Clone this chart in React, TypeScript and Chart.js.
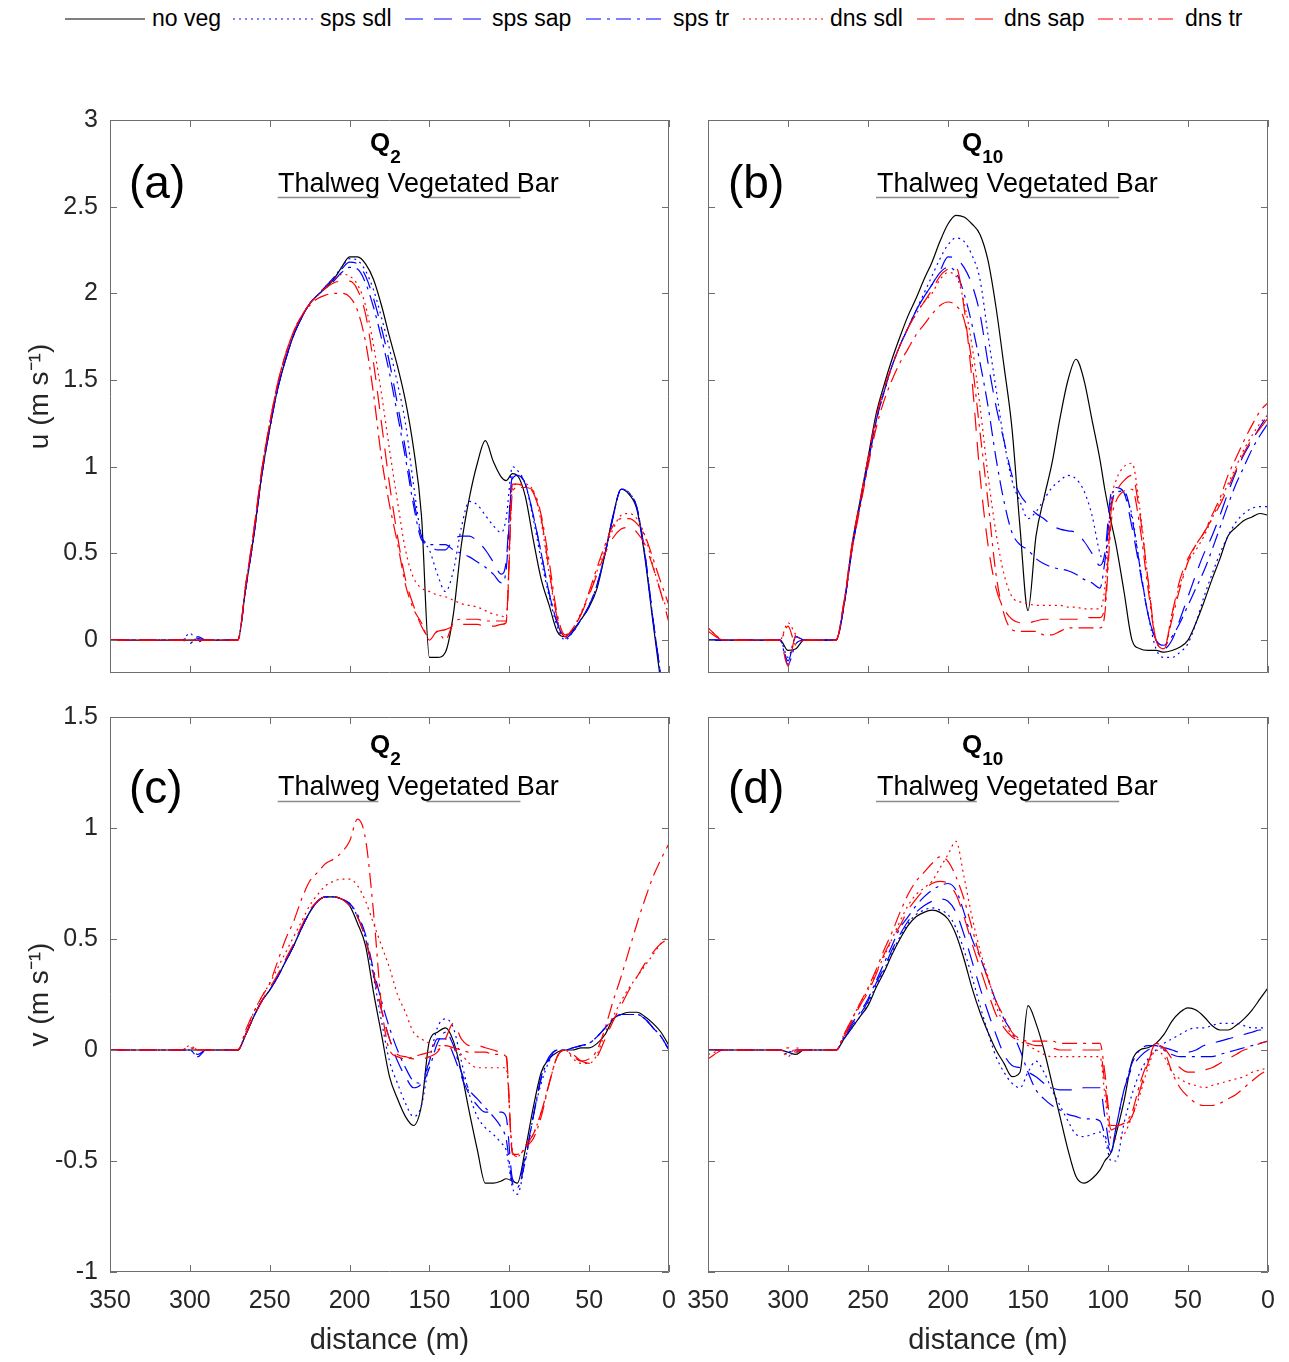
import React, { useEffect, useRef } from 'react';
import { Chart, registerables } from 'chart.js';

Chart.register(...registerables);

const FONT = '"Liberation Sans", Arial, Helvetica, sans-serif';

// shared distance grid (m)
const distance = [
  350, 340, 305, 300, 295, 290, 270, 265, 260, 255,
  250, 245, 240, 235, 230, 225, 220, 215, 210, 205,
  200, 195, 190, 185, 180, 175, 170, 165, 160, 155,
  150, 145, 140, 135, 130, 125, 120, 115, 110, 105,
  102, 98, 95, 90, 85, 80, 75, 70, 65, 60,
  55, 50, 45, 40, 35, 30, 25, 20, 15, 10,
  5, 0,
];

const seriesNames = ['no veg', 'sps sdl', 'sps sap', 'sps tr', 'dns sdl', 'dns sap', 'dns tr'];
const uTicks = [0, 0.5, 1, 1.5, 2, 2.5, 3];
const vTicks = [-1, -0.5, 0, 0.5, 1, 1.5];
const distTicks = [350, 300, 250, 200, 150, 100, 50, 0];
const thalwegRange = [245, 182];
const barRange = [152, 93];

// ---------- (a) u, Q2 ----------
const aNoVeg = [
  0, 0, 0, 0, 0, 0, 0, 0.3, 0.6, 0.95,
  1.22, 1.45, 1.62, 1.76, 1.86, 1.94, 1.99, 2.03, 2.08, 2.15,
  2.21, 2.21, 2.17, 2.08, 1.93, 1.75, 1.58, 1.38, 1.11, 0.72,
  -0.1, -0.1, -0.07, 0.15, 0.55, 0.82, 1.02, 1.15, 1.03, 0.94,
  0.92, 0.96, 0.95, 0.83, 0.58, 0.35, 0.2, 0.05, 0.02, 0.06,
  0.12, 0.19, 0.3, 0.5, 0.72, 0.87, 0.84, 0.75, 0.47, 0.1,
  -0.25, -0.6,
];
const aSpsSdl = [
  0, 0, 0, 0.04, -0.01, 0, 0, 0.3, 0.6, 0.95,
  1.22, 1.45, 1.62, 1.76, 1.86, 1.94, 1.99, 2.04, 2.09, 2.15,
  2.2, 2.19, 2.13, 2.02, 1.86, 1.68, 1.48, 1.25, 0.9, 0.6,
  0.52, 0.38, 0.28, 0.4, 0.65, 0.8, 0.78, 0.72, 0.66, 0.62,
  0.7, 1.0, 0.98, 0.9, 0.7, 0.46, 0.25, 0.08, 0.0, 0.05,
  0.12, 0.2, 0.32, 0.5, 0.71, 0.87, 0.85, 0.76, 0.49, 0.12,
  -0.22, -0.6,
];
const aSpsSap = [
  0, 0, 0, 0.02, 0.01, 0, 0, 0.3, 0.6, 0.95,
  1.22, 1.45, 1.62, 1.76, 1.86, 1.94, 1.99, 2.04, 2.09, 2.14,
  2.18, 2.17, 2.1, 1.97, 1.8, 1.6, 1.36, 1.1, 0.82, 0.6,
  0.55, 0.52, 0.52, 0.58, 0.6, 0.6, 0.57, 0.52, 0.45, 0.38,
  0.45, 0.95, 0.96, 0.9, 0.72, 0.5, 0.27, 0.1, 0.01, 0.05,
  0.12, 0.2, 0.32, 0.5, 0.71, 0.87, 0.85, 0.76, 0.49, 0.12,
  -0.22, -0.6,
];
const aSpsTr = [
  0, 0, 0, -0.02, 0.02, 0, 0, 0.3, 0.6, 0.95,
  1.22, 1.45, 1.62, 1.76, 1.86, 1.94, 1.99, 2.03, 2.07, 2.12,
  2.15, 2.14, 2.06, 1.92, 1.74, 1.54, 1.3, 1.05, 0.78, 0.58,
  0.55, 0.55, 0.55, 0.52, 0.5, 0.48, 0.45, 0.42, 0.38, 0.33,
  0.4, 0.93, 0.95, 0.9, 0.72, 0.5, 0.27, 0.1, 0.01, 0.05,
  0.12, 0.2, 0.32, 0.5, 0.71, 0.87, 0.85, 0.76, 0.49, 0.12,
  -0.22, -0.6,
];
const aDnsSdl = [
  0, 0, 0, 0, 0, 0, 0, 0.32, 0.63, 0.98,
  1.25, 1.48, 1.65, 1.78, 1.87, 1.94, 1.99, 2.04, 2.08, 2.11,
  2.1, 2.05, 1.93, 1.7, 1.42, 1.1, 0.8, 0.52, 0.36, 0.3,
  0.28, 0.26, 0.25, 0.23, 0.21, 0.2, 0.19, 0.17, 0.15, 0.14,
  0.13, 0.88, 0.9, 0.9, 0.86, 0.68, 0.38, 0.12, 0.02, 0.07,
  0.16, 0.27, 0.4, 0.53, 0.64, 0.72, 0.73, 0.7, 0.6, 0.43,
  0.27, 0.15,
];
const aDnsSap = [
  0, 0, 0, 0, 0, 0, 0, 0.32, 0.63, 0.98,
  1.25, 1.48, 1.65, 1.78, 1.87, 1.94, 1.99, 2.03, 2.06, 2.07,
  2.07, 2.02, 1.88, 1.6, 1.25, 0.9, 0.6, 0.35, 0.2, 0.08,
  0.02, 0.05, 0.06, 0.08, 0.09, 0.09, 0.09, 0.08, 0.08, 0.09,
  0.1, 0.9, 0.9, 0.88, 0.85, 0.7, 0.4, 0.13, 0.02, 0.07,
  0.15, 0.26, 0.38, 0.5, 0.59, 0.64, 0.65, 0.62, 0.55, 0.42,
  0.27, 0.1,
];
const aDnsTr = [
  0, 0, 0, 0, 0, 0, 0, 0.32, 0.63, 0.98,
  1.25, 1.48, 1.65, 1.78, 1.87, 1.93, 1.97, 1.99, 2.0, 2.0,
  1.98, 1.9, 1.72, 1.42, 1.05, 0.78, 0.56, 0.32, 0.18, 0.1,
  0.0, 0.05, 0.0, 0.1, 0.12, 0.12, 0.12, 0.11, 0.11, 0.11,
  0.11, 0.85, 0.88, 0.88, 0.86, 0.72, 0.45, 0.15, 0.03, 0.07,
  0.15, 0.28, 0.42, 0.55, 0.66, 0.7, 0.7, 0.67, 0.6, 0.47,
  0.33, 0.2,
];

// ---------- (b) u, Q10 ----------
const bNoVeg = [
  0, 0, 0, -0.06, -0.05, 0, 0, 0.2, 0.55, 0.8,
  1.05, 1.3, 1.47, 1.62, 1.75, 1.87, 1.97, 2.08, 2.18, 2.3,
  2.4, 2.45, 2.44, 2.4, 2.34, 2.19, 1.92, 1.58, 1.22, 0.65,
  0.17, 0.6, 0.82, 1.02, 1.28, 1.5, 1.62, 1.5, 1.27, 1.04,
  0.87, 0.68, 0.55, 0.28, 0.0, -0.05, -0.06, -0.06, -0.07, -0.06,
  -0.04, 0.0, 0.1, 0.22, 0.35, 0.47, 0.6, 0.65, 0.69, 0.71,
  0.73, 0.72,
];
const bSpsSdl = [
  0, 0, 0, -0.1, 0.02, 0, 0, 0.2, 0.52, 0.78,
  1.02, 1.26, 1.43, 1.58, 1.7, 1.8, 1.9, 2.0, 2.1, 2.2,
  2.28, 2.32, 2.3, 2.22, 2.08, 1.76, 1.45, 1.15, 0.92, 0.8,
  0.7, 0.74, 0.81, 0.88, 0.92, 0.95, 0.93, 0.86, 0.72, 0.5,
  0.45, 0.8, 0.88, 0.85, 0.72, 0.42, 0.15, -0.05, -0.1, -0.1,
  -0.07, -0.02, 0.1, 0.25, 0.38, 0.5, 0.6, 0.68, 0.73, 0.76,
  0.77, 0.77,
];
const bSpsSap = [
  0, 0, 0, -0.12, 0.02, 0, 0, 0.2, 0.52, 0.78,
  1.02, 1.26, 1.43, 1.58, 1.7, 1.8, 1.9, 1.98, 2.05, 2.13,
  2.21, 2.2, 2.15, 2.05, 1.88, 1.6, 1.35, 1.15, 0.95, 0.84,
  0.78, 0.73, 0.7, 0.66, 0.64, 0.63, 0.62, 0.57, 0.5, 0.43,
  0.5, 0.85, 0.88, 0.85, 0.65, 0.4, 0.15, 0.0, -0.05, 0.0,
  0.12, 0.25, 0.38, 0.5, 0.6, 0.72, 0.85, 0.97, 1.07, 1.15,
  1.23, 1.3,
];
const bSpsTr = [
  0, 0, 0, -0.14, -0.02, 0, 0, 0.2, 0.52, 0.78,
  1.02, 1.26, 1.43, 1.58, 1.7, 1.8, 1.9, 1.98, 2.05, 2.12,
  2.15, 2.12, 2.0, 1.82, 1.6, 1.35, 1.05, 0.8, 0.62, 0.55,
  0.52, 0.47, 0.44, 0.42, 0.41, 0.4, 0.38, 0.35, 0.33, 0.3,
  0.45, 0.78, 0.85, 0.86, 0.7, 0.42, 0.15, 0.0, -0.03, 0.02,
  0.1, 0.2, 0.3, 0.4, 0.52, 0.65, 0.78, 0.9, 1.0, 1.1,
  1.18, 1.25,
];
const bDnsSdl = [
  0.07, 0, 0, 0.1, 0.03, 0, 0, 0.22, 0.55, 0.8,
  1.05, 1.28, 1.45, 1.58, 1.7, 1.8, 1.88, 1.95, 2.0, 2.08,
  2.12, 2.1, 1.95, 1.7, 1.35, 0.95, 0.62, 0.38, 0.25, 0.22,
  0.21, 0.2, 0.2, 0.2, 0.2, 0.19, 0.19, 0.18, 0.18, 0.18,
  0.3, 0.8, 0.92, 1.0, 1.02, 0.75, 0.35, 0.0, -0.05, 0.15,
  0.32, 0.45, 0.52, 0.6, 0.7, 0.8, 0.9, 1.0, 1.1, 1.18,
  1.25, 1.3,
];
const bDnsSap = [
  0.05, 0, 0, -0.15, 0.03, 0, 0, 0.22, 0.55, 0.8,
  1.05, 1.28, 1.45, 1.58, 1.7, 1.8, 1.88, 1.95, 2.02, 2.1,
  2.14, 2.15, 1.92, 1.5, 0.95, 0.55, 0.3, 0.18, 0.12, 0.1,
  0.1, 0.11, 0.12, 0.12, 0.12, 0.12, 0.12, 0.13, 0.13, 0.13,
  0.2, 0.75, 0.85, 0.92, 0.95, 0.72, 0.35, 0.0, -0.05, 0.15,
  0.35, 0.47, 0.55, 0.62, 0.7, 0.78, 0.88, 0.98, 1.08, 1.16,
  1.22, 1.28,
];
const bDnsTr = [
  0.07, 0, 0, 0.08, -0.03, 0, 0, 0.22, 0.52, 0.76,
  1.0, 1.22, 1.38, 1.5, 1.6, 1.68, 1.76, 1.82, 1.88, 1.93,
  1.95, 1.93, 1.85, 1.6, 1.2, 0.8, 0.38, 0.15, 0.06, 0.05,
  0.05, 0.05, 0.03, 0.03, 0.05, 0.07, 0.07, 0.07, 0.07, 0.07,
  0.15, 0.68, 0.8, 0.86, 0.87, 0.65, 0.3, 0.0, -0.05, 0.12,
  0.3, 0.45, 0.55, 0.62, 0.72, 0.82, 0.95, 1.05, 1.15, 1.24,
  1.32, 1.37,
];

// ---------- (c) v, Q2 ----------
const cNoVeg = [
  0, 0, 0, 0, 0, 0, 0, 0.07, 0.15, 0.22,
  0.27, 0.33, 0.4, 0.47, 0.55, 0.62, 0.67, 0.69, 0.69, 0.68,
  0.65, 0.57, 0.47, 0.26, 0.07, -0.12, -0.22, -0.3, -0.34, -0.25,
  0.04, 0.08, 0.1, 0.04, -0.1, -0.28, -0.45, -0.6, -0.6, -0.59,
  -0.58, -0.59, -0.6, -0.45, -0.26, -0.1, -0.04, -0.01, 0.0, 0.0,
  0.01, 0.01, 0.03, 0.07, 0.14, 0.16, 0.17, 0.17, 0.15, 0.12,
  0.08, 0.02,
];
const cSpsSdl = [
  0, 0, 0, 0, -0.03, 0, 0, 0.07, 0.15, 0.22,
  0.27, 0.33, 0.4, 0.47, 0.55, 0.62, 0.67, 0.69, 0.69, 0.68,
  0.66, 0.6, 0.5, 0.33, 0.13, -0.05, -0.15, -0.24, -0.3, -0.25,
  -0.05, 0.1, 0.14, 0.1, -0.05, -0.2, -0.3, -0.35, -0.38, -0.42,
  -0.45, -0.62, -0.65, -0.5, -0.3, -0.15, -0.05, 0.0, 0.0, 0.01,
  0.02, 0.03, 0.06, 0.1, 0.14, 0.16, 0.16, 0.16, 0.14, 0.1,
  0.06, 0.0,
];
const cSpsSap = [
  0, 0, 0, 0, -0.02, 0, 0, 0.07, 0.15, 0.22,
  0.27, 0.33, 0.4, 0.47, 0.55, 0.62, 0.67, 0.69, 0.69, 0.68,
  0.66, 0.6, 0.5, 0.34, 0.18, 0.05, -0.05, -0.12, -0.17, -0.15,
  -0.05, 0.05, 0.05, -0.02, -0.12, -0.2, -0.25, -0.28, -0.28, -0.28,
  -0.3, -0.58, -0.6, -0.48, -0.3, -0.12, -0.03, 0.0, 0.0, 0.01,
  0.02, 0.03, 0.06, 0.1, 0.14, 0.16, 0.16, 0.16, 0.14, 0.1,
  0.06, 0.0,
];
const cSpsTr = [
  0, 0, 0, 0, -0.03, 0, 0, 0.07, 0.15, 0.22,
  0.27, 0.33, 0.4, 0.47, 0.55, 0.62, 0.67, 0.69, 0.69, 0.68,
  0.66, 0.61, 0.52, 0.36, 0.22, 0.1, 0.0, -0.08, -0.14, -0.15,
  -0.08, 0.03, 0.08, 0.02, -0.1, -0.18, -0.22, -0.26, -0.3, -0.35,
  -0.4, -0.6, -0.62, -0.5, -0.3, -0.13, -0.04, 0.0, 0.0, 0.01,
  0.02, 0.03, 0.06, 0.1, 0.14, 0.16, 0.16, 0.16, 0.14, 0.1,
  0.06, 0.0,
];
const cDnsSdl = [
  0, 0, 0, 0.02, 0, 0, 0, 0.08, 0.17, 0.24,
  0.3, 0.37, 0.44, 0.51, 0.58, 0.65, 0.7, 0.74, 0.76, 0.77,
  0.77, 0.74, 0.67, 0.57, 0.47, 0.37, 0.25, 0.17, 0.08, 0.05,
  0.03, 0.02, 0.02, 0.0, -0.02, -0.06, -0.08, -0.08, -0.08, -0.08,
  -0.08, -0.45, -0.48, -0.44, -0.38, -0.28, -0.15, -0.03, 0.0, -0.04,
  -0.06, -0.06, -0.02, 0.08, 0.15, 0.22, 0.28, 0.33, 0.38, 0.43,
  0.48, 0.52,
];
const cDnsSap = [
  0, 0, 0, 0.02, 0, 0, 0, 0.07, 0.15, 0.22,
  0.28, 0.34, 0.41, 0.48, 0.56, 0.63, 0.67, 0.69, 0.69, 0.68,
  0.65, 0.6, 0.5, 0.35, 0.18, 0.05, -0.02, -0.03, -0.04, -0.04,
  -0.03, -0.01, 0.05, 0.12, 0.05, 0.02, 0.02, 0.01, 0.0, -0.01,
  -0.02, -0.47, -0.47, -0.43, -0.38, -0.28, -0.15, -0.03, 0.0, -0.02,
  -0.05, -0.06, -0.03, 0.05, 0.13, 0.2, 0.27, 0.33, 0.39, 0.44,
  0.48, 0.5,
];
const cDnsTr = [
  0, 0, 0, 0.01, 0, 0, 0, 0.09, 0.17, 0.24,
  0.3, 0.4, 0.5, 0.58, 0.68, 0.76, 0.8, 0.84, 0.86, 0.89,
  0.94, 1.04, 0.95, 0.62, 0.2, 0.0, -0.03, -0.04, -0.03, -0.02,
  -0.01, 0.0, 0.02, 0.01, 0.0, -0.01, -0.01, -0.01, -0.02, -0.02,
  -0.03, -0.46, -0.48, -0.44, -0.4, -0.3, -0.15, -0.03, 0.0, -0.03,
  -0.05, -0.04, 0.0, 0.1, 0.22, 0.33, 0.45, 0.57, 0.68, 0.78,
  0.86, 0.93,
];

// ---------- (d) v, Q10 ----------
const dNoVeg = [
  0, 0, 0, -0.01, -0.02, 0, 0, 0.05, 0.1, 0.15,
  0.2, 0.28, 0.35, 0.43, 0.5, 0.56, 0.6, 0.62, 0.63, 0.62,
  0.59, 0.52, 0.41, 0.28, 0.17, 0.08, 0.0, -0.06, -0.12, -0.1,
  0.2, 0.12, 0.0, -0.15, -0.3, -0.45, -0.57, -0.6, -0.58, -0.54,
  -0.5, -0.46, -0.38, -0.23, -0.05, 0.0, 0.01, 0.03, 0.07, 0.13,
  0.17, 0.19, 0.18, 0.15, 0.11, 0.09, 0.09, 0.11, 0.14, 0.18,
  0.23, 0.28,
];
const dSpsSdl = [
  0, 0, 0, -0.02, -0.01, 0, 0, 0.05, 0.1, 0.15,
  0.21, 0.29, 0.36, 0.44, 0.51, 0.57, 0.61, 0.63, 0.64, 0.63,
  0.61, 0.55, 0.45, 0.33, 0.2, 0.08, -0.03, -0.1, -0.15, -0.17,
  -0.1, -0.05, -0.1, -0.18, -0.25, -0.32, -0.38, -0.39, -0.38, -0.37,
  -0.4, -0.5, -0.5, -0.33, -0.2, -0.1, -0.04, 0.0, 0.03, 0.05,
  0.07, 0.09, 0.1, 0.1, 0.11, 0.12, 0.12, 0.12, 0.11, 0.1,
  0.1, 0.1,
];
const dSpsSap = [
  0, 0, 0, -0.01, 0, 0, 0, 0.05, 0.11, 0.16,
  0.22, 0.3, 0.37, 0.45, 0.52, 0.58, 0.62, 0.65, 0.67, 0.68,
  0.67, 0.62, 0.52, 0.4, 0.28, 0.17, 0.07, -0.02, -0.07, -0.08,
  -0.1, -0.12, -0.15, -0.17, -0.18, -0.18, -0.18, -0.17, -0.17, -0.17,
  -0.3, -0.45, -0.35, -0.18, -0.08, -0.03, 0.0, 0.01, 0.01, 0.0,
  -0.01, -0.01, 0.0, 0.02, 0.03, 0.04, 0.05, 0.06, 0.07, 0.08,
  0.09, 0.09,
];
const dSpsTr = [
  0, 0, 0, -0.01, 0, 0, 0, 0.06, 0.12, 0.17,
  0.23, 0.31, 0.39, 0.47, 0.55, 0.6, 0.65, 0.69, 0.72, 0.74,
  0.75, 0.72, 0.62, 0.5, 0.42, 0.32, 0.22, 0.14, 0.08, 0.0,
  -0.1, -0.18, -0.22, -0.25, -0.27, -0.29, -0.3, -0.31, -0.31, -0.32,
  -0.38, -0.46, -0.35, -0.18, -0.06, 0.0, 0.02, 0.02, 0.0, -0.02,
  -0.03, -0.03, -0.03, -0.03, -0.03, -0.02, -0.01, 0.0, 0.01, 0.02,
  0.03, 0.04,
];
const dDnsSdl = [
  -0.02, 0, 0, -0.03, 0.01, 0, 0, 0.07, 0.14, 0.21,
  0.27, 0.35, 0.42, 0.5, 0.58, 0.65, 0.7, 0.73, 0.76, 0.82,
  0.88, 0.94, 0.78, 0.6, 0.45, 0.33, 0.2, 0.12, 0.07, 0.04,
  0.02, 0.0, -0.02, -0.03, -0.03, -0.03, -0.03, -0.03, -0.03, -0.03,
  -0.2, -0.4, -0.4, -0.38, -0.3, -0.2, -0.08, 0.0, -0.03, -0.1,
  -0.13, -0.15, -0.16, -0.17, -0.16, -0.15, -0.14, -0.13, -0.12, -0.1,
  -0.09, -0.08,
];
const dDnsSap = [
  0, 0, 0, -0.01, 0, 0, 0, 0.06, 0.13, 0.2,
  0.26, 0.34, 0.43, 0.5, 0.56, 0.63, 0.68, 0.72, 0.75, 0.76,
  0.75, 0.7, 0.6, 0.48, 0.37, 0.26, 0.16, 0.1, 0.06, 0.04,
  0.03, 0.02, 0.02, 0.01, 0.0, 0.0, 0.0, 0.0, 0.0, 0.0,
  -0.15, -0.36, -0.35, -0.34, -0.3, -0.18, -0.06, 0.02, 0.01, -0.04,
  -0.08, -0.1, -0.1, -0.09, -0.08, -0.06, -0.04, -0.02, 0.0, 0.01,
  0.03, 0.04,
];
const dDnsTr = [
  -0.04, 0, 0, 0.01, -0.01, 0, 0, 0.07, 0.14, 0.21,
  0.28, 0.36, 0.45, 0.53, 0.62, 0.7, 0.76, 0.8, 0.84, 0.87,
  0.85, 0.78, 0.68, 0.55, 0.42, 0.32, 0.22, 0.15, 0.08, 0.05,
  0.04, 0.04, 0.04, 0.04, 0.03, 0.03, 0.03, 0.03, 0.03, 0.03,
  -0.1, -0.34, -0.34, -0.33, -0.28, -0.15, -0.05, 0.03, 0.0, -0.1,
  -0.17, -0.21, -0.24, -0.25, -0.25, -0.24, -0.22, -0.2, -0.17, -0.14,
  -0.11, -0.09,
];

const LINE_STYLES = [
  { color: '#000000', dash: [] as number[] },
  { color: '#0000ff', dash: [2, 4] },
  { color: '#0000ff', dash: [18, 11] },
  { color: '#0000ff', dash: [15, 6, 3, 6] },
  { color: '#ff0000', dash: [2, 4] },
  { color: '#ff0000', dash: [18, 11] },
  { color: '#ff0000', dash: [15, 6, 3, 6] },
];

const framePlugin = {
  id: 'frame',
  afterDatasetsDraw(chart: any, _args: any, opts: any) {
    const { ctx, chartArea, scales } = chart;
    const { left, right, top, bottom } = chartArea;
    const xs = scales.x;
    const ys = scales.y;
    ctx.save();
    ctx.setLineDash([]);
    ctx.strokeStyle = '#6e6e6e';
    ctx.lineWidth = 1;
    ctx.beginPath();
    ctx.rect(Math.round(left) + 0.5, Math.round(top) + 0.5, Math.round(right - left) - 1, Math.round(bottom - top) - 1);
    const tl = 7;
    xs.ticks.forEach((t: any) => {
      const p = Math.round(xs.getPixelForValue(t.value)) + 0.5;
      ctx.moveTo(p, bottom);
      ctx.lineTo(p, bottom - tl);
      ctx.moveTo(p, top);
      ctx.lineTo(p, top + tl);
    });
    ys.ticks.forEach((t: any) => {
      const p = Math.round(ys.getPixelForValue(t.value)) + 0.5;
      ctx.moveTo(left, p);
      ctx.lineTo(left + tl, p);
      ctx.moveTo(right, p);
      ctx.lineTo(right - tl, p);
    });
    ctx.stroke();
    if (opts && opts.rangeY != null) {
      ctx.strokeStyle = '#8c8c8c';
      ctx.lineWidth = 1.5;
      const y = Math.round(ys.getPixelForValue(opts.rangeY)) + 0.5;
      [thalwegRange, barRange].forEach((r) => {
        ctx.beginPath();
        ctx.moveTo(xs.getPixelForValue(r[0]), y);
        ctx.lineTo(xs.getPixelForValue(r[1]), y);
        ctx.stroke();
      });
    }
    ctx.restore();
  },
};

type PanelProps = {
  left: number;
  top: number;
  width: number;
  height: number;
  xHeight: number;
  series: number[][];
  yMin: number;
  yMax: number;
  yTicks: number[];
  yTitle?: string;
  showYLabels: boolean;
  showXLabels: boolean;
  rangeY: number;
};

function Panel(p: PanelProps) {
  const ref = useRef<HTMLCanvasElement | null>(null);
  useEffect(() => {
    if (!ref.current) return;
    const datasets = p.series.map((vals, i) => ({
      label: seriesNames[i],
      data: distance.map((d, k) => ({ x: d, y: vals[k] })),
      borderColor: LINE_STYLES[i].color,
      borderDash: LINE_STYLES[i].dash,
      borderWidth: 1.2,
      pointRadius: 0,
      fill: false,
      cubicInterpolationMode: 'monotone' as const,
      order: 7 - i,
    }));
    const chart = new Chart(ref.current, {
      type: 'line',
      data: { datasets },
      plugins: [framePlugin],
      options: {
        animation: false,
        responsive: false,
        maintainAspectRatio: false,
        events: [],
        layout: { padding: { top: 20, right: 11, left: 0, bottom: 0 } },
        plugins: {
          legend: { display: false },
          tooltip: { enabled: false },
          // @ts-ignore
          frame: { rangeY: p.rangeY },
        },
        scales: {
          x: {
            type: 'linear',
            reverse: true,
            min: 0,
            max: 350,
            grid: { display: false, drawTicks: false },
            border: { display: false },
            afterBuildTicks: (s: any) => {
              s.ticks = distTicks.map((v) => ({ value: v }));
            },
            afterFit: (s: any) => {
              s.height = p.xHeight;
              s.paddingLeft = 0;
              s.paddingRight = 0;
              s.paddingTop = 0;
              s.paddingBottom = 0;
            },
            ticks: {
              display: p.showXLabels,
              padding: 14,
              color: '#262626',
              font: { family: FONT, size: 25 },
              maxRotation: 0,
              autoSkip: false,
              callback: (v: any) => String(v),
            },
            title: {
              display: p.showXLabels,
              text: 'distance (m)',
              color: '#262626',
              font: { family: FONT, size: 29 },
              padding: { top: 0, bottom: 4 },
            },
          },
          y: {
            type: 'linear',
            min: p.yMin,
            max: p.yMax,
            grid: { display: false, drawTicks: false },
            border: { display: false },
            afterBuildTicks: (s: any) => {
              s.ticks = p.yTicks.map((v) => ({ value: v }));
            },
            afterFit: (s: any) => {
              s.width = 110;
              s.paddingLeft = 0;
              s.paddingRight = 0;
              s.paddingTop = 0;
              s.paddingBottom = 0;
            },
            ticks: {
              display: p.showYLabels,
              padding: 12,
              color: '#262626',
              font: { family: FONT, size: 25 },
              autoSkip: false,
              callback: (v: any) => String(v),
            },
            title: {
              display: !!p.yTitle,
              text: p.yTitle || '',
              color: '#262626',
              font: { family: FONT, size: 28 },
              padding: { top: 23, bottom: 0 },
            },
          },
        },
      },
    });
    return () => chart.destroy();
  }, []);
  return (
    <canvas
      ref={ref}
      width={p.width}
      height={p.height}
      style={{ position: 'absolute', left: p.left, top: p.top, width: p.width, height: p.height }}
    />
  );
}

const legendX = [65, 233, 405, 586, 743, 917, 1098];

function Legend() {
  return (
    <>
      {seriesNames.map((name, i) => (
        <React.Fragment key={name}>
          <svg
            width={80}
            height={6}
            style={{ position: 'absolute', left: legendX[i], top: 16 }}
          >
            <line
              x1={0}
              y1={3}
              x2={80}
              y2={3}
              stroke={LINE_STYLES[i].color}
              strokeWidth={1.2}
              strokeDasharray={LINE_STYLES[i].dash.length ? LINE_STYLES[i].dash.join(',') : undefined}
            />
          </svg>
          <div
            style={{
              position: 'absolute',
              left: legendX[i] + 87,
              top: 7,
              fontSize: 23,
              lineHeight: '23px',
              whiteSpace: 'nowrap',
              color: '#000',
            }}
          >
            {name}
          </div>
        </React.Fragment>
      ))}
    </>
  );
}

function Annot(props: { letter: string; sub: string; lx: number; qx: number; tx: number; ly: number; qy: number; ty: number }) {
  const { letter, sub, lx, qx, tx, ly, qy, ty } = props;
  return (
    <>
      <div style={{ position: 'absolute', left: lx, top: ly, fontSize: 46, lineHeight: '46px', color: '#000', whiteSpace: 'nowrap' }}>
        ({letter})
      </div>
      <div style={{ position: 'absolute', left: qx, top: qy, fontSize: 26, lineHeight: '26px', fontWeight: 'bold', color: '#000', whiteSpace: 'nowrap' }}>
        Q<span style={{ fontSize: 19, position: 'relative', top: 12 }}>{sub}</span>
      </div>
      <div style={{ position: 'absolute', left: tx, top: ty, fontSize: 27, lineHeight: '27px', color: '#000', whiteSpace: 'nowrap' }}>
        Thalweg Vegetated Bar
      </div>
    </>
  );
}

export default function App() {
  return (
    <div
      style={{
        position: 'absolute',
        left: 0,
        top: 0,
        width: 1289,
        height: 1362,
        background: '#ffffff',
        fontFamily: FONT,
        overflow: 'hidden',
      }}
    >
      <Legend />
      <Panel
        left={0} top={100} width={680} height={583} xHeight={10}
        series={[aNoVeg, aSpsSdl, aSpsSap, aSpsTr, aDnsSdl, aDnsSap, aDnsTr]}
        yMin={-0.19} yMax={3} yTicks={uTicks} yTitle={'u (m s\u207B\u00B9)'}
        showYLabels={true} showXLabels={false} rangeY={2.556}
      />
      <Panel
        left={598} top={100} width={681} height={583} xHeight={10}
        series={[bNoVeg, bSpsSdl, bSpsSap, bSpsTr, bDnsSdl, bDnsSap, bDnsTr]}
        yMin={-0.19} yMax={3} yTicks={uTicks}
        showYLabels={false} showXLabels={false} rangeY={2.556}
      />
      <Panel
        left={0} top={697} width={680} height={665} xHeight={90}
        series={[cNoVeg, cSpsSdl, cSpsSap, cSpsTr, cDnsSdl, cDnsSap, cDnsTr]}
        yMin={-1} yMax={1.5} yTicks={vTicks} yTitle={'v (m s\u207B\u00B9)'}
        showYLabels={true} showXLabels={true} rangeY={1.1216}
      />
      <Panel
        left={598} top={697} width={681} height={665} xHeight={90}
        series={[dNoVeg, dSpsSdl, dSpsSap, dSpsTr, dDnsSdl, dDnsSap, dDnsTr]}
        yMin={-1} yMax={1.5} yTicks={vTicks}
        showYLabels={false} showXLabels={true} rangeY={1.1216}
      />
      <Annot letter="a" sub="2" lx={129} qx={370} tx={278} ly={159} qy={129} ty={170} />
      <Annot letter="b" sub="10" lx={728} qx={962} tx={877} ly={159} qy={129} ty={170} />
      <Annot letter="c" sub="2" lx={129} qx={370} tx={278} ly={764} qy={731} ty={773} />
      <Annot letter="d" sub="10" lx={728} qx={962} tx={877} ly={764} qy={731} ty={773} />
    </div>
  );
}
